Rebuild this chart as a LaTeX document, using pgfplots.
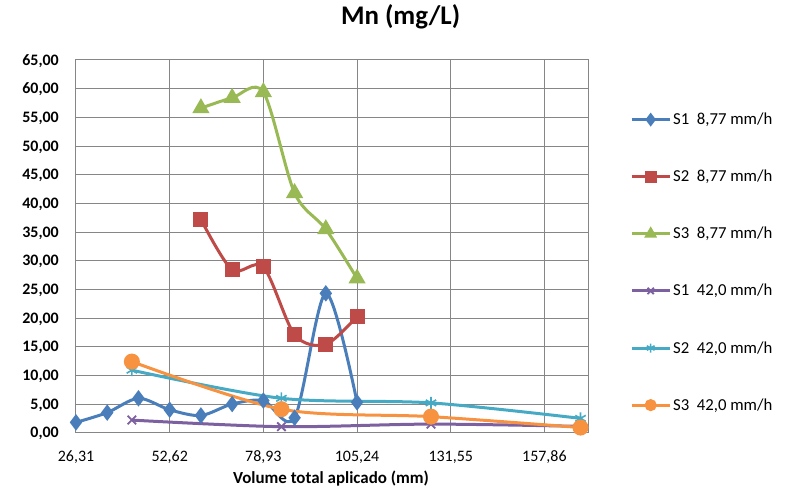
\documentclass[border=0pt]{standalone}
\usepackage{pgfplots}
\pgfplotsset{compat=1.18}
\usepackage{fontspec}
\setmainfont{Carlito}
\definecolor{c1}{HTML}{4A7EBB}
\definecolor{c2}{HTML}{BE4B48}
\definecolor{c3}{HTML}{98B954}
\definecolor{c4}{HTML}{7D60A0}
\definecolor{c5}{HTML}{46AAC5}
\definecolor{c6}{HTML}{F69240}
\definecolor{gr}{HTML}{868686}
\begin{document}
\begin{tikzpicture}
\useasboundingbox (-76bp,-62.3bp) rectangle (709bp,432.7bp);
\begin{axis}[
  at={(0,0)}, anchor=south west,
  scale only axis, width=512bp, height=372.7bp,
  xmin=26.31, xmax=170.1, ymin=0, ymax=65,
  xtick={26.31,52.62,78.93,105.24,131.55,157.86},
  xticklabels={{26,31},{52,62},{78,93},{105,24},{131,55},{157,86}},
  ytick={0,5,...,65},
  yticklabels={{0,00},{5,00},{10,00},{15,00},{20,00},{25,00},{30,00},{35,00},{40,00},{45,00},{50,00},{55,00},{60,00},{65,00}},
  major tick length=0,
  grid=major,
  grid style={gr, line width=1bp},
  axis line style={gr, line width=1bp},
  xticklabel style={font=\fontsize{16}{16}\selectfont, inner sep=0pt, anchor=base, yshift=-29bp},
  yticklabel style={font=\bfseries\fontsize{16}{16}\selectfont, inner sep=0pt, anchor=base east, xshift=-17bp, yshift=-5.2bp},
  xlabel={Volume total aplicado (mm)},
  xlabel style={font=\bfseries\fontsize{17}{17}\selectfont, at={(0.498,0)}, anchor=center, yshift=-46bp},
  title={Mn (mg/L)},
  title style={font=\bfseries\fontsize{27}{27}\selectfont, at={(0.634,1.0786)}, anchor=base, inner sep=0pt},
  legend style={draw=none, fill=none, at={(1.082,0.457)}, anchor=west, inner sep=0pt,
     font=\fontsize{16.8}{16.8}\selectfont, row sep=40bp, cells={anchor=west}},
  legend cell align=left,
  legend image code/.code={%
    \draw[#1, line width=3bp] (0bp,0bp) -- (38bp,0bp);
    \draw[#1, mark repeat=1, mark size=4.5bp] plot coordinates {(19bp,0bp)};},
  every axis plot/.append style={line width=3bp, smooth, tension=0.5},
]
\addplot[c1, mark=diamond*, mark size=5.8bp, mark options={solid,fill=c1}] coordinates {
 (26.31,1.8)(35.08,3.5)(43.85,6.0)(52.62,4.0)(61.39,3.0)(70.16,5.0)(78.93,5.6)(87.70,2.6)(96.47,24.3)(105.24,5.3)};
\addlegendentry{S1\ \ 8,77 mm/h}
\addplot[c2, mark=square*, mark size=6bp, mark options={solid,fill=c2}] coordinates {
 (61.39,37.2)(70.16,28.4)(78.93,28.9)(87.70,17.1)(96.47,15.4)(105.24,20.3)};
\addlegendentry{S2\ \ 8,77 mm/h}
\addplot[c3, mark=triangle*, mark size=7bp, mark options={solid,fill=c3}] coordinates {
 (61.39,56.6)(70.16,58.4)(78.93,59.4)(87.70,41.8)(96.47,35.5)(105.24,26.9)};
\addlegendentry{S3\ \ 8,77 mm/h}
\addplot[c4, mark=x, mark size=6bp, mark options={solid,line width=1.8bp}] coordinates {
 (42,2.2)(84,1.05)(126,1.5)(168,1.1)};
\addlegendentry{S1\ \ 42,0 mm/h}
\addplot[c5, mark=asterisk, mark size=6bp, mark options={solid,line width=1.6bp}] coordinates {
 (42,10.9)(84,6.0)(126,5.2)(168,2.5)};
\addlegendentry{S2\ \ 42,0 mm/h}
\addplot[c6, mark=*, mark size=6.5bp, mark options={solid,fill=c6}] coordinates {
 (42,12.4)(84,4.1)(126,2.8)(168,0.9)};
\addlegendentry{S3\ \ 42,0 mm/h}
\end{axis}
\end{tikzpicture}
\end{document}
